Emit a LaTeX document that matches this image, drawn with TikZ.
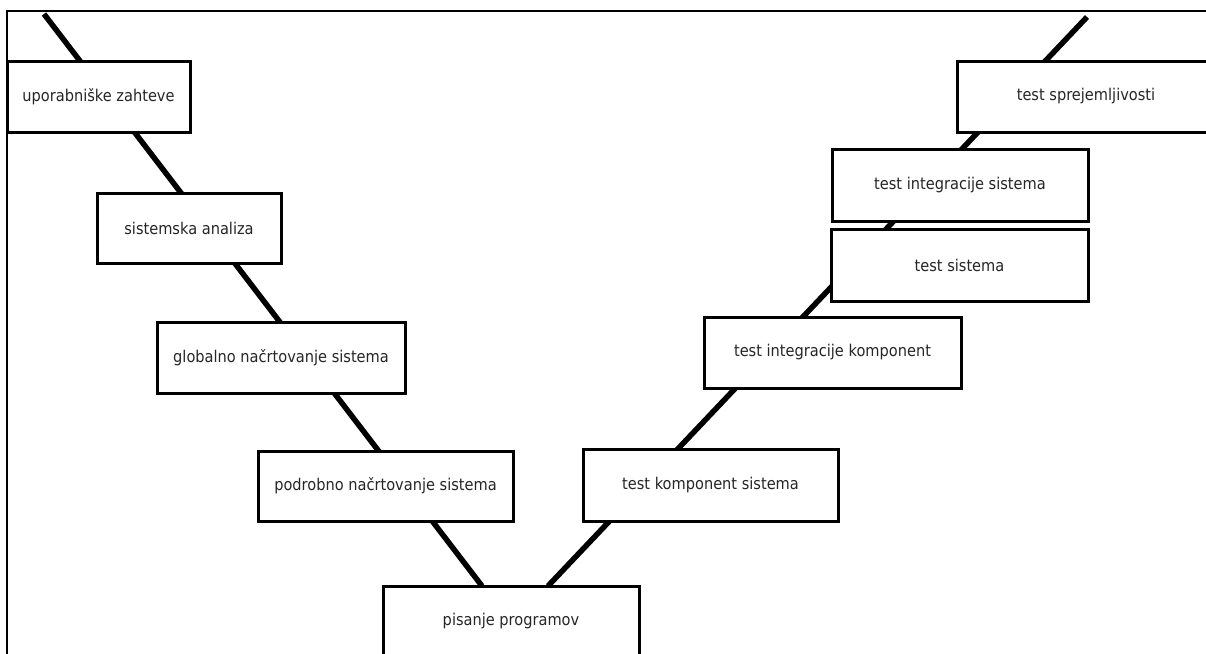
\documentclass[tikz,border=0pt]{standalone}
\usepackage{fontspec}
\setmainfont[FakeStretch=0.9]{DejaVu Sans}
\usetikzlibrary{backgrounds}

\tikzset{
  stage/.style={draw=black, fill=white, line width=3pt, inner sep=0pt, outer sep=0pt,
    font=\fontsize{16.2}{19}\selectfont, text=black!85},
  vline/.style={line width=5.5pt, black},
  frameline/.style={line width=2.6pt, black}
}

\begin{document}
\begin{tikzpicture}[x=1pt, y=-1pt]
  \useasboundingbox (0,0) rectangle (1206,653);

  % free upper ends of the two arms of the V
  \coordinate (topL) at (44,14);
  \coordinate (topR) at (1087,17);

  \begin{scope}
    \clip (0,0) rectangle (1206,653);
    % outer frame (only left and top edges fall inside the page)
    \draw[frameline] (7,660) -- (7,11) -- (1220,11);

    % left arm: specification and design
    \node[stage, minimum width=183pt, minimum height=71pt] (uz)  at (98.5,96.5)  {uporabniške zahteve};
    \node[stage, minimum width=184pt, minimum height=70pt] (sa)  at (189,228)    {sistemska analiza};
    \node[stage, minimum width=248pt, minimum height=71pt] (gns) at (281,357.5)  {globalno načrtovanje sistema};
    \node[stage, minimum width=255pt, minimum height=70pt] (pns) at (385.5,486)  {podrobno načrtovanje sistema};

    % bottom of the V
    \node[stage, minimum width=256pt, minimum height=71pt] (pp)  at (511,621.5)  {pisanje programov};

    % right arm: testing
    \node[stage, minimum width=255pt, minimum height=72pt] (tks) at (710.5,485)  {test komponent sistema};
    \node[stage, minimum width=257pt, minimum height=71pt] (tik) at (832.5,352.5){test integracije komponent};
    \node[stage, minimum width=257pt, minimum height=72pt] (ts)  at (959.5,265)  {test sistema};
    \node[stage, minimum width=256pt, minimum height=72pt] (tis) at (960,185)    {test integracije sistema};
    \node[stage, minimum width=258pt, minimum height=71pt] (tsp) at (1086,96.5)  {test sprejemljivosti};
  \end{scope}

  % the two arms run behind the boxes into the top of the bottom box
  \begin{pgfonlayer}{background}
    \begin{scope}
      \clip (0,0) rectangle (1206,653);
      \draw[vline] (topL) -- ([xshift=99pt]pp.north west);
      \draw[vline] (topR) -- ([xshift=165pt]pp.north west);
    \end{scope}
  \end{pgfonlayer}
\end{tikzpicture}
\end{document}
